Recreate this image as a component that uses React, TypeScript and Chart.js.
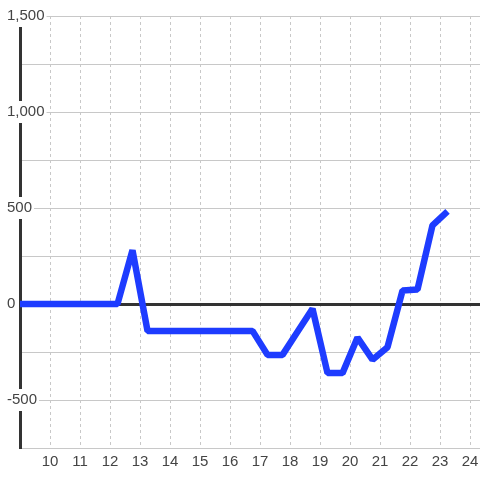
import React, { useEffect, useRef } from "react";
import { Chart, registerables } from "chart.js";

Chart.register(...registerables);

const hours = [
  8.75, 9.25, 9.75, 10.25, 10.75, 11.25, 11.75, 12.25, 12.75, 13.25,
  13.75, 14.25, 14.75, 15.25, 15.75, 16.25, 16.75, 17.25, 17.75, 18.25,
  18.75, 19.25, 19.75, 20.25, 20.75, 21.25, 21.75, 22.25, 22.75, 23.25,
];
const values = [
  0, 0, 0, 0, 0, 0, 0, 0, 280, -140,
  -140, -140, -140, -140, -140, -140, -140, -265, -265, -145,
  -25, -360, -360, -175, -290, -225, 70, 75, 410, 482,
];
const xTickValues = [10, 11, 12, 13, 14, 15, 16, 17, 18, 19, 20, 21, 22, 23, 24];

const FONT = "'Liberation Sans', Arial, sans-serif";

export default function App() {
  const ref = useRef<HTMLCanvasElement | null>(null);
  useEffect(() => {
    if (!ref.current) return;
    const chart = new Chart(ref.current, {
      type: "line",
      data: {
        datasets: [
          {
            data: hours.map((h, i) => ({ x: h, y: values[i] })),
            borderColor: "#1e3cff",
            borderWidth: 6.5,
            borderJoinStyle: "bevel",
            pointRadius: 0,
            tension: 0,
            fill: false,
          },
        ],
      },
      options: {
        animation: false,
        responsive: false,
        layout: { padding: { left: 20, top: 16, right: 0, bottom: 0 } },
        plugins: { legend: { display: false }, tooltip: { enabled: false } },
        scales: {
          x: {
            type: "linear",
            min: 9,
            max: 24.333,
            afterBuildTicks: (s: any) => {
              s.ticks = xTickValues.map((v) => ({ value: v }));
            },
            afterFit: (s: any) => {
              s.height = 32;
              s.paddingLeft = 0;
              s.paddingRight = 0;
            },
            grid: { color: "#c8c8c8", drawTicks: false, lineWidth: 1 },
            border: { display: false, dash: [3, 3] },
            ticks: {
              autoSkip: false,
              maxRotation: 0,
              padding: 5,
              color: "#444",
              font: { family: FONT, size: 15 },
              callback: (v: any) => String(v),
            },
          },
          y: {
            type: "linear",
            min: -750,
            max: 1500,
            afterFit: (s: any) => {
              s.width = 0;
            },
            grid: {
              drawTicks: false,
              color: (c: any) => (c.tick && c.tick.value === 0 ? "#333" : "#c8c8c8"),
              lineWidth: (c: any) => (c.tick && c.tick.value === 0 ? 3 : 1),
            },
            border: { display: true, color: "#333", width: 3 },
            ticks: {
              stepSize: 250,
              mirror: true,
              padding: -13,
              color: "#444",
              font: { family: FONT, size: 15 },
              showLabelBackdrop: true,
              backdropColor: "#ffffff",
              backdropPadding: 2,
              callback: (v: any) =>
                Number(v) % 500 === 0 ? Number(v).toLocaleString("en-US") : "",
            },
          },
        },
      },
    } as any);
    return () => chart.destroy();
  }, []);
  return (
    <div style={{ position: "fixed", left: 0, top: 0, width: 480, height: 480, background: "#fff" }}>
      <canvas ref={ref} width={480} height={480} style={{ display: "block" }} />
    </div>
  );
}
